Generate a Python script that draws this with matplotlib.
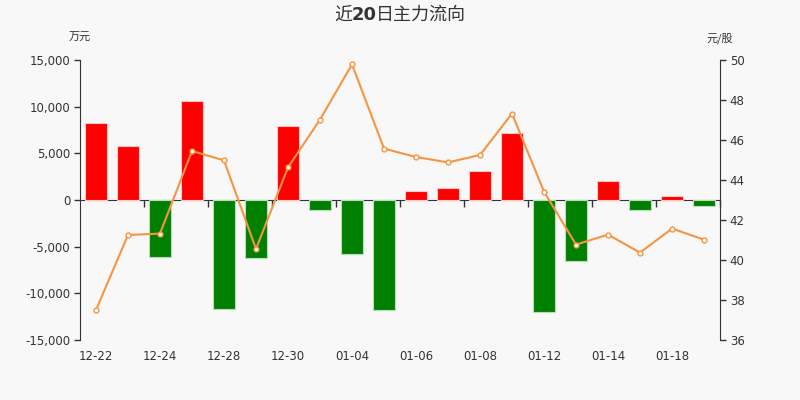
import numpy as np
import matplotlib
matplotlib.use("Agg")
import matplotlib.pyplot as plt

plt.rcParams['font.family'] = ['DejaVu Sans', 'Noto Sans CJK SC']

# data
dates = ['12-22', '12-23', '12-24', '12-25', '12-28', '12-29', '12-30', '12-31',
         '01-04', '01-05', '01-06', '01-07', '01-08', '01-11', '01-12', '01-13',
         '01-14', '01-15', '01-18', '01-19']
main_flow = [8250, 5780, -6140, 10600, -11680, -6180, 7960, -1040,
             -5820, -11790, 1000, 1290, 3110, 7180, -12040, -6570,
             2070, -1040, 400, -610]          # 万元
price = [37.50, 41.25, 41.32, 45.45, 44.98, 40.55, 44.63, 47.02,
         49.78, 45.57, 45.15, 44.88, 45.25, 47.32, 43.42, 40.77,
         41.27, 40.37, 41.57, 41.02]          # 元/股

bg = '#f8f8f8'
txt = '#333333'
fig = plt.figure(figsize=(8, 4), dpi=100, facecolor=bg)
ax = fig.add_axes([0.1, 0.15, 0.8, 0.7], facecolor=bg)

x = np.arange(len(dates))
colors = ['#ff0000' if v >= 0 else '#008000' for v in main_flow]
edges = ['#ffc8c8' if v >= 0 else '#b8e0b8' for v in main_flow]
ax.bar(x, main_flow, width=0.7, color=colors, edgecolor=edges, linewidth=0.8, zorder=2)

ax.set_xlim(-0.5, len(dates) - 0.5)
ax.set_ylim(-15000, 15000)
ax.set_yticks(np.arange(-15000, 15001, 5000))
ax.set_yticklabels([f'{v:,}' for v in range(-15000, 15001, 5000)])
ax.set_xticks(x[::2])
ax.set_xticklabels(dates[::2])
ax.tick_params(axis='x', length=0, pad=7, labelsize=8.5, colors=txt)
ax.tick_params(axis='y', length=4, width=1, labelsize=8.5, colors=txt, pad=3)
for s in ['top', 'right', 'bottom']:
    ax.spines[s].set_visible(False)
ax.spines['left'].set_color(txt)

# zero line with category ticks
zx = ax.secondary_xaxis(0.5)
zx.set_xticks(np.arange(1.5, len(dates), 2))
zx.set_xticklabels([])
zx.tick_params(length=5, width=1, color=txt, direction='in')
zx.spines['bottom'].set_color(txt)
zx.spines['top'].set_color(txt)

ax2 = ax.twinx()
ax2.plot(x, price, color='#f7943f', lw=1.5, marker='o', ms=3.5,
         mfc='white', mec='#f7943f', mew=1, zorder=3)
ax2.set_ylim(36, 50)
ax2.set_yticks(np.arange(36, 51, 2))
ax2.tick_params(axis='y', length=4, width=1, labelsize=8.5, colors=txt, pad=3)
for s in ['top', 'left', 'bottom']:
    ax2.spines[s].set_visible(False)
ax2.spines['right'].set_color(txt)

# title: "20" bold, the rest regular, laid out piece by piece
pieces = [('近', 'normal', ['Noto Sans CJK SC']),
          ('20', 'bold', ['DejaVu Sans']),
          ('日主力流向', 'normal', ['Noto Sans CJK SC'])]
renderer = fig.canvas.get_renderer()
parts = []
for s, w, fam in pieces:
    t = fig.text(0, 0.963, s, ha='left', va='center', fontsize=13, color=txt,
                 family=fam, fontweight=w)
    parts.append((t, t.get_window_extent(renderer).width))
gap = -1
total = sum(wd for _, wd in parts) + gap * (len(parts) - 1)
xpix = 400 - total / 2
for t, wd in parts:
    t.set_x(xpix / 800)
    xpix += wd + gap

fig.text(0.1, 0.905, '万元', ha='center', va='center', fontsize=8,
         color=txt, family=['Noto Sans CJK SC'])
fig.text(0.9, 0.905, '元/股', ha='center', va='center', fontsize=8,
         color=txt, family=['Noto Sans CJK SC'])

fig.savefig('out.png', dpi=100, facecolor=bg)
